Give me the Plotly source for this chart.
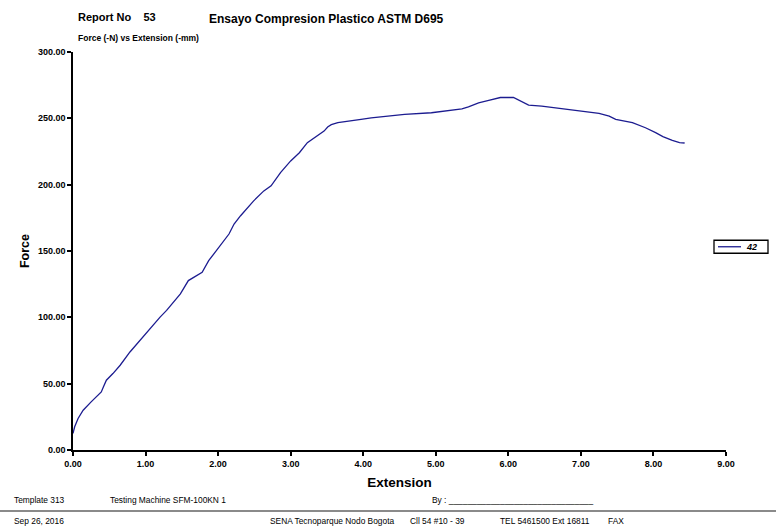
import plotly.graph_objects as go

# Force vs extension curve for specimen 42
extension = [0.0, 0.023, 0.07, 0.14, 0.25, 0.39, 0.42, 0.46, 0.55, 0.65, 0.785, 0.9,
             1.02, 1.13, 1.2, 1.29, 1.39, 1.48, 1.59, 1.66, 1.78, 1.87, 1.99, 2.15,
             2.22, 2.31, 2.49, 2.63, 2.73, 2.86, 3.0, 3.12, 3.23, 3.46, 3.51, 3.56,
             3.65, 3.79, 3.97, 4.11, 4.57, 4.94, 5.36, 5.45, 5.59, 5.73, 5.89, 6.07,
             6.14, 6.28, 6.46, 6.74, 7.02, 7.25, 7.39, 7.48, 7.71, 7.89, 8.03, 8.13,
             8.26, 8.36, 8.43]
force = [12.5, 17.5, 23.8, 30.0, 36.3, 43.8, 47.6, 52.6, 57.6, 63.9, 73.9, 81.4,
         88.9, 96.4, 100.2, 105.2, 111.4, 117.7, 127.7, 130.2, 134.0, 142.7, 151.5, 162.8,
         170.3, 176.6, 187.8, 195.3, 199.1, 209.1, 217.9, 224.1, 231.7, 240.4, 243.5, 245.2,
         246.7, 247.6, 249.2, 250.4, 253.0, 254.2, 257.2, 258.7, 261.7, 263.5, 265.7, 265.7,
         264.0, 260.0, 259.2, 257.2, 255.4, 253.7, 251.7, 249.2, 246.7, 242.9, 239.2, 236.2,
         233.4, 231.7, 231.4]

x_ticks = [0, 1, 2, 3, 4, 5, 6, 7, 8, 9]
y_ticks = [0, 50, 100, 150, 200, 250, 300]
series_name = "42"

W, H = 776, 527
L, R, T, B = 73, 726, 51.5, 450
LINE_COLOR = "#1c1c90"


def px(x):
    return (x - L) / (R - L)


def py(y):
    return (B - y) / (B - T)


FONT = "Liberation Sans, Arial, sans-serif"

fig = go.Figure()
fig.add_trace(go.Scatter(
    x=extension, y=force, mode="lines", name=series_name,
    line=dict(color=LINE_COLOR, width=1.3), showlegend=False,
))

axis_common = dict(
    showgrid=False, zeroline=False, showline=True, linecolor="black", linewidth=1.5,
    ticks="outside", ticklen=4, tickwidth=1.5, tickcolor="black",
    tickfont=dict(family=FONT, size=9, color="black", weight="bold"),
    tickformat=".2f",
)

fig.update_xaxes(range=[0, 9], tickvals=x_ticks, **axis_common,
                 title=dict(text="<b>Extension</b>", font=dict(family=FONT, size=13.5, color="black"),
                            standoff=10))
fig.update_yaxes(range=[0, 300], tickvals=y_ticks, **axis_common,
                 title=dict(text="<b>Force</b>", font=dict(family=FONT, size=12.5, color="black"),
                            standoff=6))

foot = dict(family=FONT, size=8.4, color="black")
annotations = [
    dict(text="<b>Report No    53</b>", x=px(76), y=py(16), xanchor="left", yanchor="middle",
         font=dict(family=FONT, size=11, color="black")),
    dict(text="<b>Ensayo Compresion Plastico ASTM D695</b>", x=px(207), y=py(18),
         xanchor="left", yanchor="middle", font=dict(family=FONT, size=12, color="black")),
    dict(text="<b>Force (-N) vs Extension (-mm)</b>", x=px(76), y=py(37), xanchor="left",
         yanchor="middle", font=dict(family=FONT, size=8.5, color="black")),
    dict(text="Template 313", x=px(12), y=py(500), xanchor="left", yanchor="middle", font=foot),
    dict(text="Testing Machine SFM-100KN 1", x=px(108), y=py(500), xanchor="left",
         yanchor="middle", font=foot),
    dict(text="By : _______________________________", x=px(430), y=py(500), xanchor="left",
         yanchor="middle", font=foot),
    dict(text="Sep 26, 2016", x=px(12), y=py(521), xanchor="left", yanchor="middle", font=foot),
    dict(text="SENA Tecnoparque Nodo Bogota", x=px(268), y=py(521), xanchor="left",
         yanchor="middle", font=foot),
    dict(text="Cll 54 #10 - 39", x=px(408), y=py(521), xanchor="left", yanchor="middle",
         font=foot),
    dict(text="TEL 5461500 Ext 16811", x=px(498), y=py(521), xanchor="left", yanchor="middle",
         font=foot),
    dict(text="FAX", x=px(606), y=py(521), xanchor="left", yanchor="middle", font=foot),
    # legend entry label
    dict(text=f"<b><i>{series_name}</i></b>", x=px(751), y=py(246.5), xanchor="center",
         yanchor="middle", font=dict(family=FONT, size=9, color="black")),
]
for a in annotations:
    a.update(xref="paper", yref="paper", showarrow=False)

shapes = [
    # footer rule
    dict(type="line", x0=px(0), x1=px(W), y0=py(511), y1=py(511),
         line=dict(color="#8a8a8a", width=2)),
    # legend frame and line sample
    dict(type="rect", x0=px(714), x1=px(768), y0=py(240), y1=py(253),
         line=dict(color="black", width=1.3), fillcolor="white"),
    dict(type="line", x0=px(718), x1=px(741), y0=py(246.5), y1=py(246.5),
         line=dict(color=LINE_COLOR, width=1.3)),
]
for s in shapes:
    s.update(xref="paper", yref="paper")

fig.update_layout(
    width=W, height=H,
    margin=dict(l=L, r=W - R, t=T, b=H - B, pad=0, autoexpand=False),
    paper_bgcolor="white", plot_bgcolor="white",
    annotations=annotations,
    shapes=shapes,
    showlegend=False,
)

fig.write_html("out.html")
